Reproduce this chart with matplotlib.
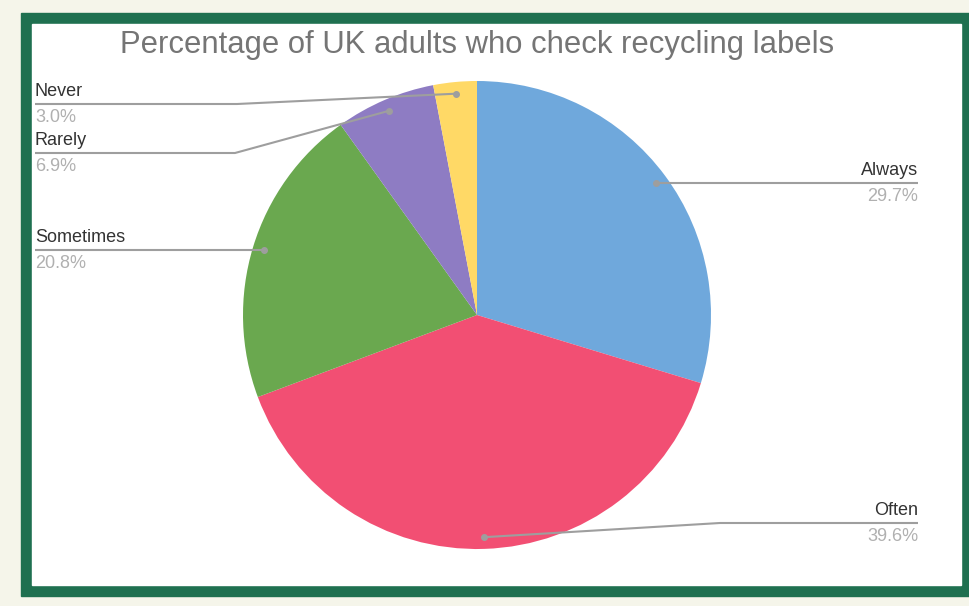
import matplotlib.pyplot as plt
from matplotlib.patches import Rectangle
import numpy as np

# data
labels = ['Always', 'Often', 'Sometimes', 'Rarely', 'Never']
values = [29.7, 39.6, 20.8, 6.9, 3.0]
colors = ['#6fa8dc', '#f24f73', '#6aa84f', '#8e7cc3', '#ffd966']
title = 'Percentage of UK adults who check recycling labels'

W, H = 970, 606
fig = plt.figure(figsize=(W / 100, H / 100), dpi=100, facecolor='#f5f5ea')
ax = fig.add_axes([0, 0, 1, 1])
ax.set_xlim(0, W)
ax.set_ylim(0, H)
ax.set_aspect('equal')
ax.axis('off')

def Y(y):
    # pixel y (top down) -> axes y
    return H - y

# frame
ax.add_patch(Rectangle((21, Y(596)), W - 21 + 5, 596 - 13, color='#1f7050', zorder=0))
ax.add_patch(Rectangle((32, Y(585)), 961 - 32, 585 - 24, color='white', zorder=1))

cx, cy, R = 477, Y(315), 234
wedges, _ = ax.pie(values, colors=colors, startangle=90, counterclock=False,
                   center=(cx, cy), radius=R, frame=True,
                   wedgeprops=dict(linewidth=0, zorder=2))
ax.set_xlim(0, W)
ax.set_ylim(0, H)
ax.axis('off')

# leader layout: (elbow point, end x of underline, side)
layout = {
    'Always': (None, 918, 'right'),
    'Often': ((720, 523), 918, 'right'),
    'Sometimes': (None, 35, 'left'),
    'Rarely': ((235, 153), 35, 'left'),
    'Never': ((237, 104), 35, 'left'),
}

total = sum(values)
start = 0.0
for lab, v in zip(labels, values):
    mid = (start + v / 2) / total * 360
    start += v
    ang = np.deg2rad(90 - mid)
    px = cx + 0.95 * R * np.cos(ang)
    py = cy + 0.95 * R * np.sin(ang)
    elbow, xend, side = layout[lab]
    if elbow is None:
        xs, ys = [px, xend], [py, py]
        line_y = py
    else:
        ex, ey = elbow[0], Y(elbow[1])
        xs, ys = [px, ex, xend], [py, ey, ey]
        line_y = ey
    ax.plot(xs, ys, color='#9e9e9e', lw=1.5, zorder=3, solid_capstyle='butt')
    ax.plot([px], [py], 'o', color='#9e9e9e', ms=4, zorder=4)
    ha = 'right' if side == 'right' else 'left'
    ax.text(xend, line_y + 4, lab, ha=ha, va='bottom', fontsize=13,
            color='#333333', family='Liberation Sans', zorder=5)
    ax.text(xend, line_y - 5, f'{v:.1f}%', ha=ha, va='top', fontsize=13,
            color='#b0b0b0', family='Liberation Sans', zorder=5)

ax.text(477, Y(45), title, ha='center', va='center', fontsize=22.3,
        color='#757575', family='Liberation Sans', zorder=5)

fig.savefig('out.png', dpi=100, facecolor=fig.get_facecolor())
